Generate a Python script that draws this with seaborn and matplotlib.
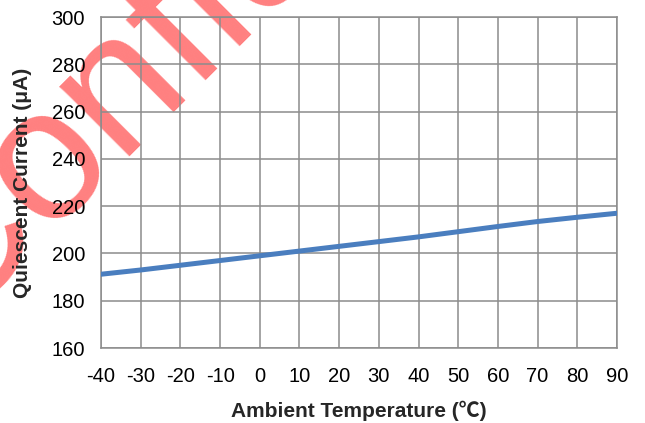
import matplotlib
matplotlib.use("Agg")
import matplotlib.pyplot as plt
import seaborn as sns
import pandas as pd

temperature = [-40, -30, -20, -10, 0, 10, 20, 30, 40, 50, 60, 70, 80, 90]
current_ua = [191.2, 193.0, 195.0, 197.0, 199.0, 201.0, 203.0, 205.0, 207.0, 209.2, 211.4, 213.5, 215.3, 217.0]
x_ticks = list(range(-40, 91, 10))
y_ticks = list(range(160, 301, 20))

sns.set_theme(style="white")
plt.rcParams['font.family'] = ['Liberation Sans', 'Noto Sans CJK SC', 'DejaVu Sans']

df = pd.DataFrame({"T": temperature, "I": current_ua})

fig = plt.figure(figsize=(6.45, 4.23), dpi=100)
ax = fig.add_axes([0.1566, 0.1773, 0.8000, 0.7825])
ax.set_facecolor("none")
ax.set_zorder(2)
sns.lineplot(data=df, x="T", y="I", ax=ax, color="#4A7EBF", linewidth=3.6, zorder=3)

ax.set_xlim(-40, 90)
ax.set_ylim(160, 300)
ax.set_xticks(x_ticks)
ax.set_yticks(y_ticks)
ax.set_xticklabels([str(v) for v in x_ticks], fontsize=14.5)
ax.set_yticklabels([str(v) for v in y_ticks], fontsize=14.5)
ax.tick_params(axis='x', length=0, pad=14, colors='black')
ax.tick_params(axis='y', length=0, pad=11.5, colors='black')
ax.grid(True, color="#8C8C8C", linewidth=1.1, zorder=1)
for s in ax.spines.values():
    s.set_color("#8C8C8C")
    s.set_linewidth(1.1)

ax.set_xlabel("Ambient Temperature (℃)", fontsize=15, fontweight="bold", labelpad=10)
ax.set_ylabel("Quiescent Current (μA)", fontsize=15, fontweight="bold", labelpad=14)

fig.text(-0.079, 0.2246, "Confidential", fontsize=135, color="#FF8080", rotation=45,
         rotation_mode="anchor", ha="left", va="baseline", zorder=0)

fig.savefig("out.png", dpi=100)
